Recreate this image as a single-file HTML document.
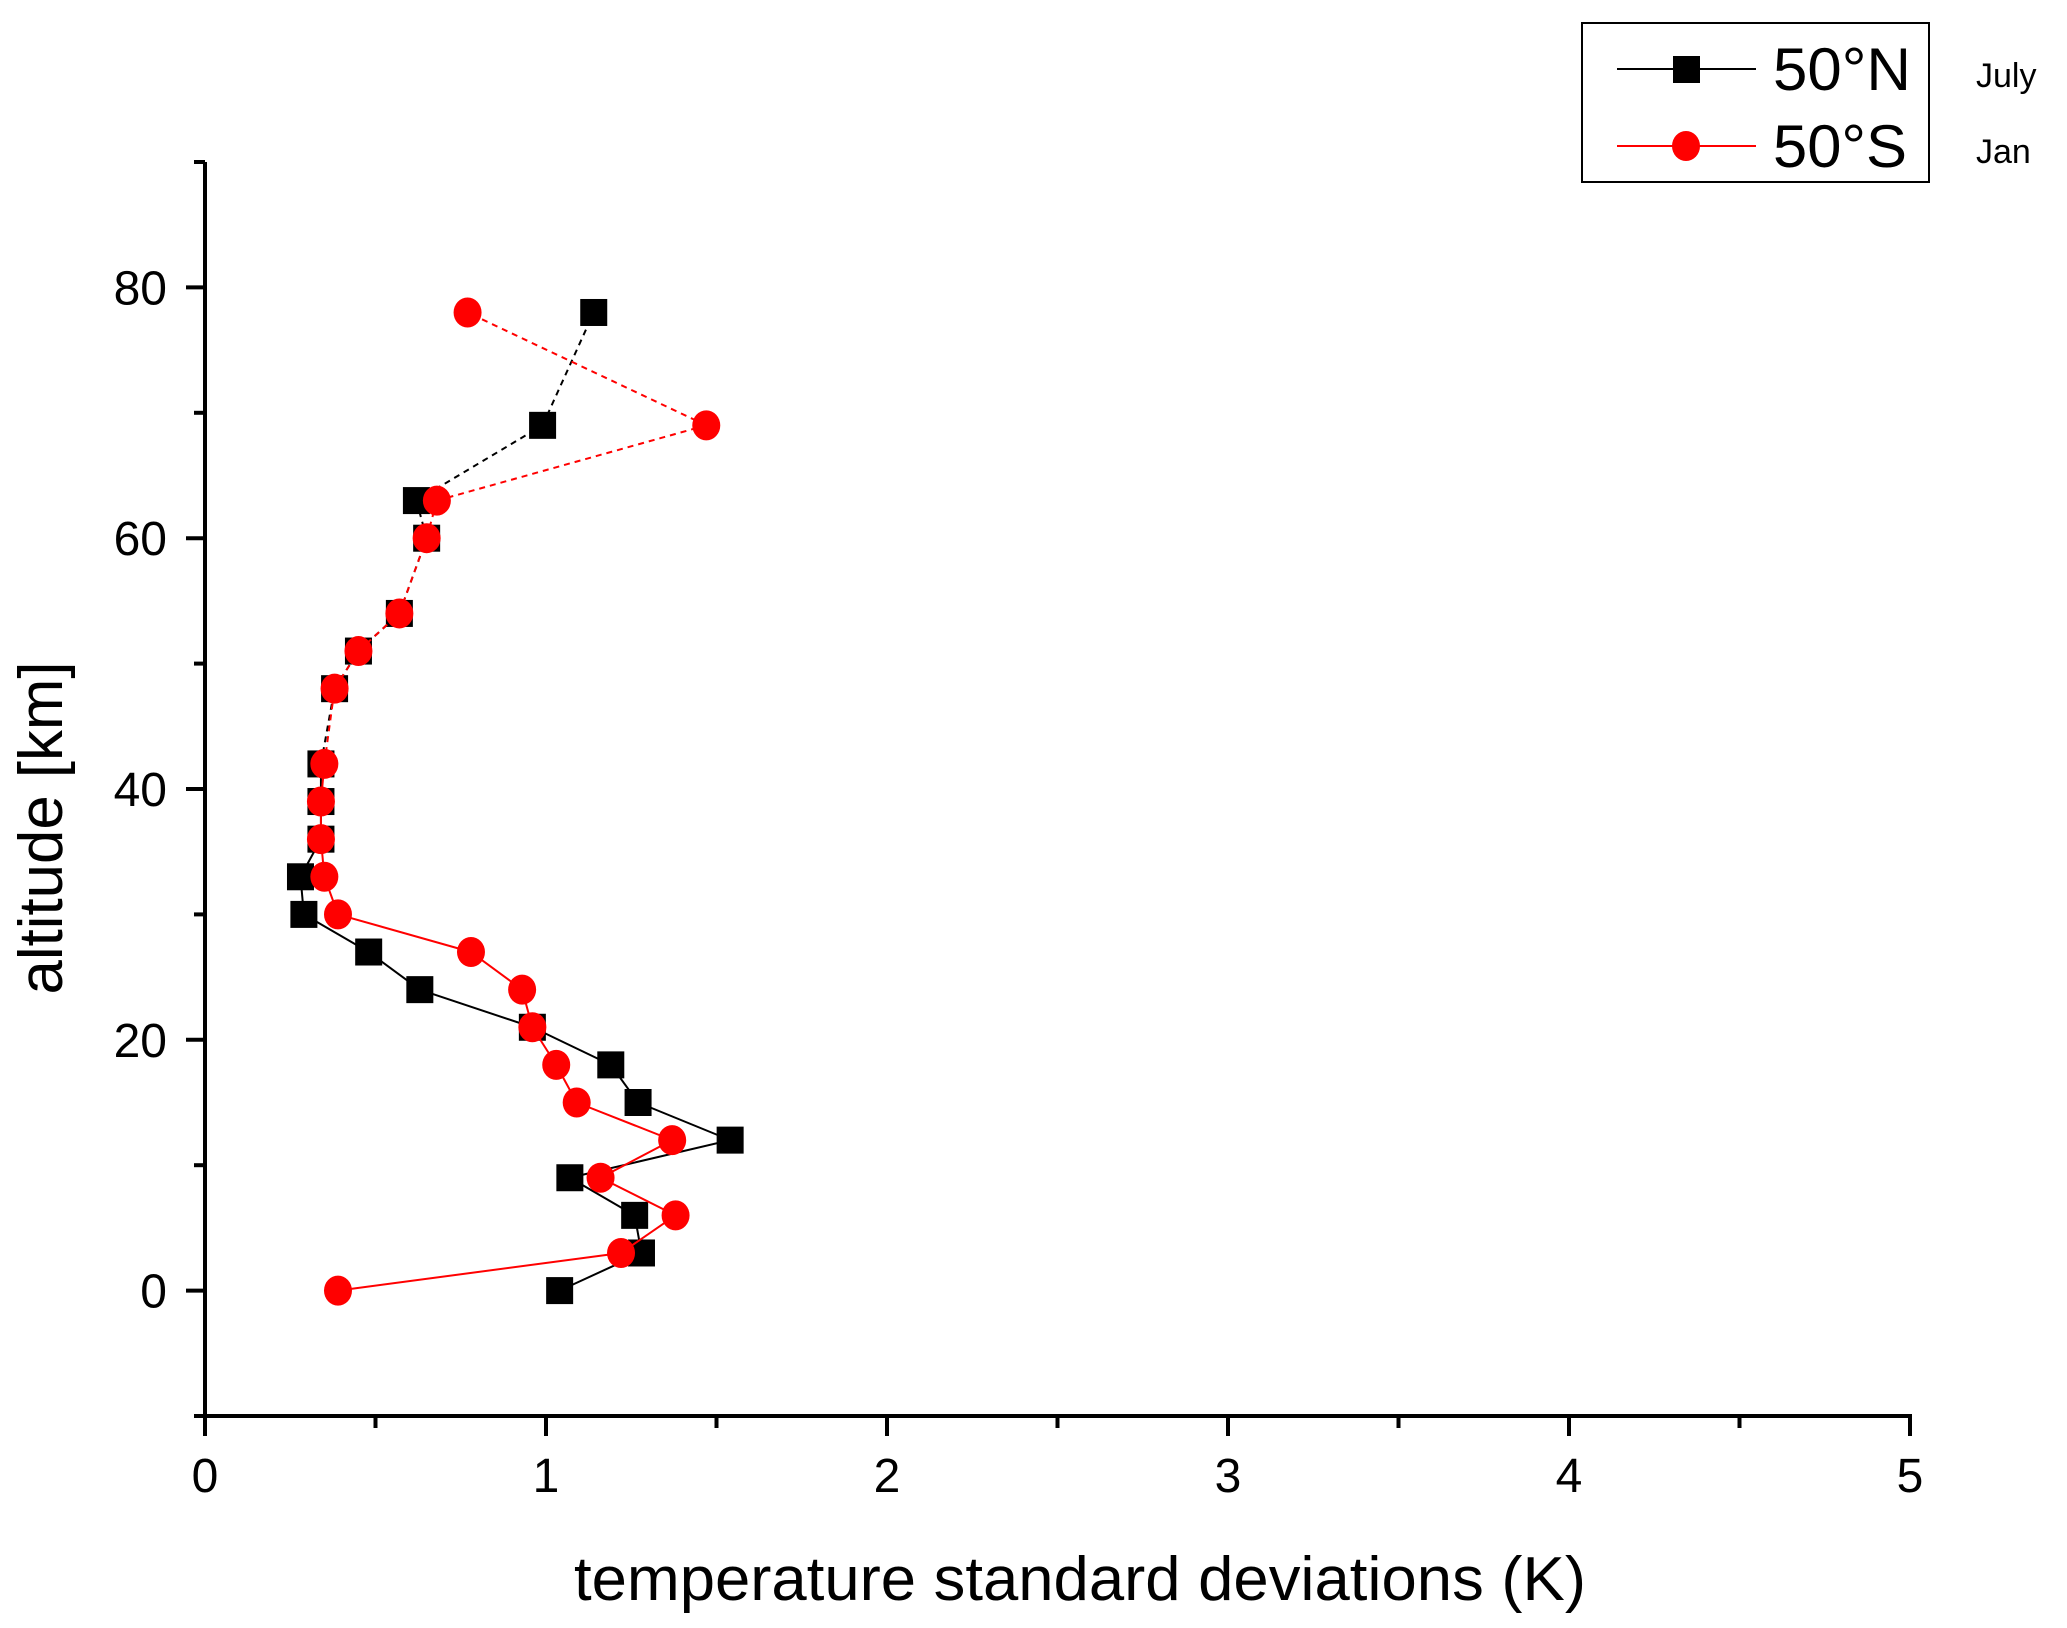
<!DOCTYPE html>
<html><head><meta charset="utf-8"><style>
body{margin:0;background:#fff}
svg{display:block}
text{font-family:"Liberation Sans",sans-serif}
</style></head><body>
<svg id="chart" width="2067" height="1628" viewBox="0 0 2067 1628">
<g id="axes"></g>
<g id="series"></g>
<text x="1080" y="1600" font-size="62" text-anchor="middle" textLength="1012" lengthAdjust="spacingAndGlyphs">temperature standard deviations  (K)</text>
<text transform="translate(62,828) rotate(-90)" font-size="62" text-anchor="middle" textLength="333" lengthAdjust="spacingAndGlyphs">altitude [km]</text>
<g transform="translate(-9,0)">
<rect x="1591" y="23" width="347" height="159" fill="#fff" stroke="#000" stroke-width="2"/>
<g>
<line x1="1626" y1="69" x2="1765" y2="69" stroke="#000" stroke-width="2"/>
<rect x="1682" y="56" width="27" height="27" fill="#000"/>
<text x="1782" y="90" font-size="60" textLength="138" lengthAdjust="spacingAndGlyphs">50°N</text>
</g>
<g>
<line x1="1626" y1="146" x2="1765" y2="146" stroke="#f00" stroke-width="2"/>
<ellipse cx="1695" cy="146" rx="14" ry="15" fill="#f00"/>
<text x="1782" y="167" font-size="60" textLength="134" lengthAdjust="spacingAndGlyphs">50°S</text>
</g>
<text x="1985" y="87" font-size="34">July</text>
<text x="1985" y="163" font-size="34">Jan</text>
</g>
</svg>
<script>
const altitudes=[0,3,6,9,12,15,18,21,24,27,30,33,36,39,42,48,51,54,60,63,69,78];
const north=[1.04,1.28,1.26,1.07,1.54,1.27,1.19,0.96,0.63,0.48,0.29,0.28,0.34,0.34,0.34,0.38,0.45,0.57,0.65,0.62,0.99,1.14];
const south=[0.39,1.22,1.38,1.16,1.37,1.09,1.03,0.96,0.93,0.78,0.39,0.35,0.34,0.34,0.35,0.38,0.45,0.57,0.65,0.68,1.47,0.77];
const xTicks=[0,1,2,3,4,5];
const yTicks=[0,20,40,60,80];
const dashFrom=42;
const NS='http://www.w3.org/2000/svg';
const X0=205,X1=1910,YB=1416,YT=162;
const xs=v=>X0+(v-0)/(5-0)*(X1-X0);
const ys=v=>YB-(v-(-10))/(90-(-10))*(YB-YT);
function mk(tag,attrs,parent){const e=document.createElementNS(NS,tag);for(const k in attrs)e.setAttribute(k,attrs[k]);parent.appendChild(e);return e;}
const ax=document.getElementById('axes');
let l=mk('line',{x1:X0,y1:YT,x2:X0,y2:YB,stroke:'#000','stroke-width':4},ax);


l=mk('line',{x1:X0-8,y1:YB,x2:X1+2,y2:YB,stroke:'#000','stroke-width':4},ax);


for(let v=-10;v<=90;v+=10){const maj=yTicks.includes(v);mk('line',{x1:X0-(maj?19:11),y1:ys(v),x2:X0,y2:ys(v),stroke:'#000','stroke-width':4},ax);}
yTicks.forEach(v=>{const t=mk('text',{x:X0-38,y:ys(v)+17,'font-size':48,'text-anchor':'end'},ax);t.textContent=v;

});
for(let v=0;v<=5;v+=0.5){const maj=Number.isInteger(v);mk('line',{x1:xs(v),y1:YB,x2:xs(v),y2:YB+(maj?20:12),stroke:'#000','stroke-width':4},ax);}
xTicks.forEach(v=>{const t=mk('text',{x:xs(v),y:YB+76,'font-size':48,'text-anchor':'middle'},ax);t.textContent=v;

});
const sg=document.getElementById('series');
function drawSeries(vals,color,name,marker){
 const g=mk('g',{},sg);
 
 
 for(let i=0;i<vals.length-1;i++){
  const dashed=altitudes[i]>=dashFrom;
  mk('line',{x1:xs(vals[i]),y1:ys(altitudes[i]),x2:xs(vals[i+1]),y2:ys(altitudes[i+1]),stroke:color,'stroke-width':2,'stroke-dasharray':dashed?'6,5':'none'},g);
 }
 vals.forEach((v,i)=>{let m;
  if(marker==='sq')m=mk('rect',{x:xs(v)-13.5,y:ys(altitudes[i])-13.5,width:27,height:27,fill:color},g);
  else m=mk('ellipse',{cx:xs(v),cy:ys(altitudes[i]),rx:14,ry:15,fill:color},g);
  
  
 });
}
drawSeries(north,'#000','series-50n','sq');
drawSeries(south,'#f00','series-50s','c');
</script>
</body></html>
